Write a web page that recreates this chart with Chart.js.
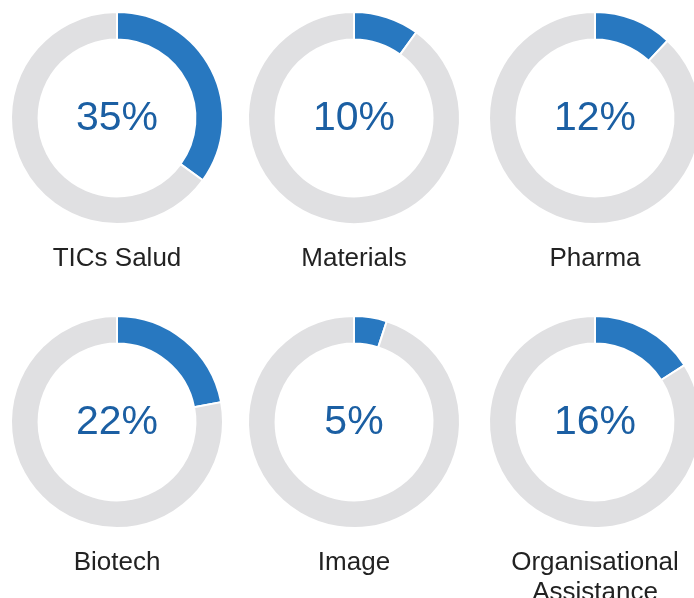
<!DOCTYPE html>
<html>
<head>
<meta charset="utf-8">
<script src="https://cdn.jsdelivr.net/npm/chart.js@4.4.1/dist/chart.umd.min.js"></script>
<style>
    html, body { margin: 0; padding: 0; background: #ffffff; overflow: hidden; }
    body { width: 694px; height: 598px; position: relative; }
    .donut { position: absolute; }
</style>
</head>
<body>
<div id="painel"></div>
<script>
// Dados das áreas
const areas = ['TICs Salud', 'Materials', 'Pharma', 'Biotech', 'Image', ['Organisational', 'Assistance']];
const percentuais = [35, 10, 12, 22, 5, 16];

// Centro de cada rosca na página
const centrosX = [116.5, 353.5, 595, 116.5, 353.5, 595];
const centrosY = [118, 118, 118, 421.5, 421.5, 421.5];

const corAzul = '#2878c0';
const corCinza = '#e0e0e2';
const corTextoAzul = '#1b5fa3';
const corTextoLabel = '#222222';
const fonte = '"Liberation Sans", Arial, sans-serif';

// Plugin para escrever o percentual no centro e o nome embaixo
const textoRosca = {
    id: 'textoRosca',
    afterDraw(chart, args, opts) {
        const ctx = chart.ctx;
        const meta = chart.getDatasetMeta(0).data[0];
        const cx = meta.x;
        const cy = meta.y;

        ctx.save();
        ctx.textAlign = 'center';
        ctx.textBaseline = 'alphabetic';

        ctx.fillStyle = corTextoAzul;
        ctx.font = '41px ' + fonte;
        ctx.fillText(opts.valor + '%', cx, cy + 12);

        ctx.fillStyle = corTextoLabel;
        ctx.font = '26px ' + fonte;
        const linhas = Array.isArray(opts.nome) ? opts.nome : [opts.nome];
        linhas.forEach((linha, i) => {
            ctx.fillText(linha, cx, cy + 148 + i * 30);
        });
        ctx.restore();
    }
};

const painel = document.getElementById('painel');

percentuais.forEach((valor, i) => {
    const canvas = document.createElement('canvas');
    canvas.className = 'donut';
    canvas.width = 240;
    canvas.height = 320;
    canvas.style.left = (centrosX[i] - 120) + 'px';
    canvas.style.top = (centrosY[i] - 120) + 'px';
    painel.appendChild(canvas);

    new Chart(canvas.getContext('2d'), {
        type: 'doughnut',
        data: {
            labels: ['valor', 'restante'],
            datasets: [{
                data: [valor, 100 - valor],
                backgroundColor: [corAzul, corCinza],
                borderColor: '#ffffff',
                borderWidth: 2
            }]
        },
        options: {
            responsive: false,
            animation: false,
            radius: 106,
            cutout: '74%',
            layout: { padding: { bottom: 80 } },
            plugins: {
                legend: { display: false },
                tooltip: { enabled: false },
                textoRosca: { valor: valor, nome: areas[i] }
            }
        },
        plugins: [textoRosca]
    });
});
</script>
</body>
</html>
